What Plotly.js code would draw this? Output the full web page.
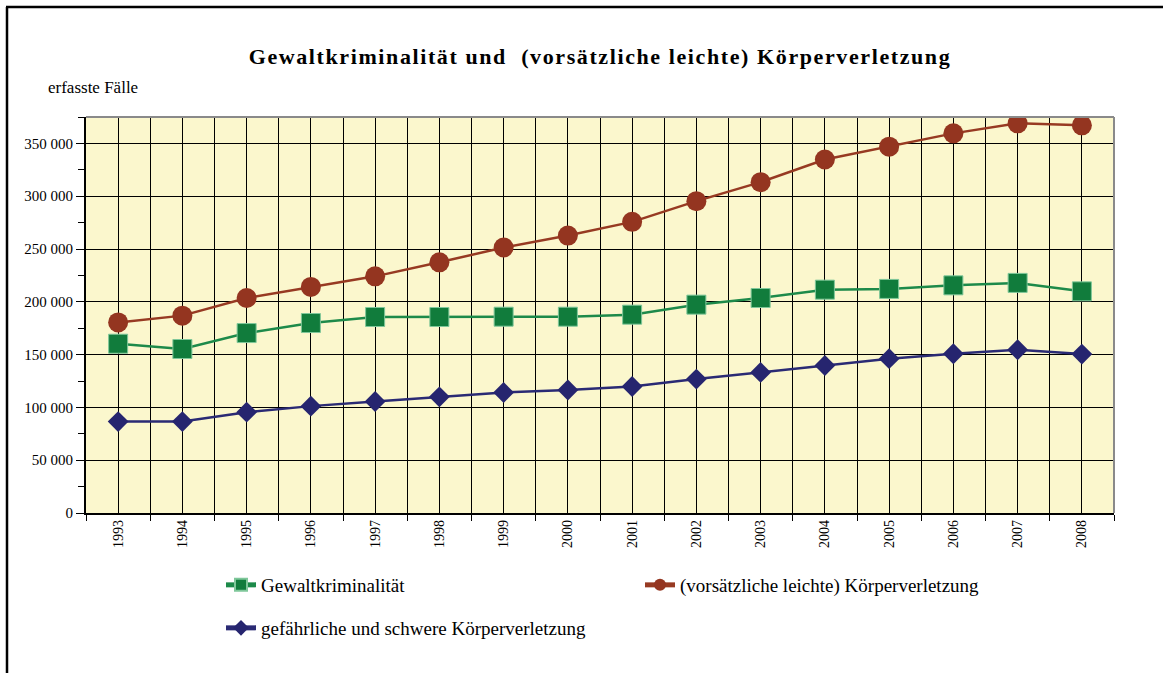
<!DOCTYPE html>
<html>
<head>
<meta charset="utf-8">
<script src="https://cdn.plot.ly/plotly-3.0.1.min.js"></script>
<style>html,body{margin:0;padding:0;background:#fff;}#chart{width:1163px;height:673px;}
.gtitle{letter-spacing:1.6px;}</style>
</head>
<body>
<div id="chart"></div>
<script>
var years = [1993,1994,1995,1996,1997,1998,1999,2000,2001,2002,2003,2004,2005,2006,2007,2008];
var gewaltkriminalitaet = [160300,155300,170400,179900,185600,185600,185900,185900,187800,197300,203600,211500,212200,215600,217900,209900];
var leichteKV = [180500,186900,203600,214100,224100,237400,251400,262700,275700,295300,313300,334800,346900,359500,369000,367100];
var schwereKV = [86600,86600,95500,101200,105600,110000,114100,116500,119800,126800,133100,139700,146100,150800,154600,150500];
var seriesNames = ["Gewaltkriminalität","(vorsätzliche leichte) Körperverletzung","gefährliche und schwere Körperverletzung"];
var yTicks = [0,50000,100000,150000,200000,250000,300000,350000];
var yTickLabels = ["0","50 000","100 000","150 000","200 000","250 000","300 000","350 000"];

var serif = "Liberation Serif, Times New Roman, serif";
var L = 86, R = 1114, T = 117, B = 513, W = 1163, H = 673;
function px(x){ return (x - L) / (R - L); }
function pyy(y){ return (B - y) / (B - T); }

var traces = [
  {x: years, y: gewaltkriminalitaet, name: seriesNames[0], type: "scatter", mode: "lines+markers", legend: "legend",
   line: {color: "#1d8a4a", width: 2.5}, marker: {symbol: "square", size: 19, color: "#117c3c", line: {color: "#7fc79a", width: 1}}},
  {x: years, y: leichteKV, name: seriesNames[1], type: "scatter", mode: "lines+markers", legend: "legend",
   line: {color: "#973a22", width: 2.5}, marker: {symbol: "circle", size: 20, color: "#943520"}},
  {x: years, y: schwereKV, name: seriesNames[2], type: "scatter", mode: "lines+markers", legend: "legend2",
   line: {color: "#2a2a74", width: 2.5}, marker: {symbol: "diamond", size: 16, color: "#26256f"}}
];

var legendFont = {family: serif, size: 19, color: "#000"};
var layout = {
  width: W, height: H,
  margin: {l: L, r: W - R, t: T, b: H - B},
  paper_bgcolor: "#ffffff",
  plot_bgcolor: "#fbf7cd",
  separators: ", ",
  showlegend: true,
  title: {text: "<b>Gewaltkriminalität und  (vorsätzliche leichte) Körperverletzung</b>",
          font: {family: serif, size: 22, color: "#000"}, x: 0.5, xref: "paper", xanchor: "center",
          y: 1 - 56 / H, yref: "container", yanchor: "middle"},
  xaxis: {
    range: [1992.5, 2008.5], tickmode: "array", tickvals: years, ticktext: years.map(String),
    tickangle: -90, ticks: "", showgrid: true, gridcolor: "#000", gridwidth: 1,
    tickfont: {family: serif, size: 14, color: "#000"},
    showline: true, linecolor: "#000", linewidth: 1.5, zeroline: false,
    minor: {tick0: 1992.5, dtick: 1, ticks: "outside", ticklen: 6, tickcolor: "#000", showgrid: true, gridcolor: "#000", gridwidth: 1}
  },
  yaxis: {
    range: [0, 375000], tickmode: "array", tickvals: yTicks, ticktext: yTickLabels,
    ticks: "outside", ticklen: 8, tickcolor: "#000", tickwidth: 1,
    showgrid: true, gridcolor: "#000", gridwidth: 1,
    tickfont: {family: serif, size: 15, color: "#000"},
    showline: true, linecolor: "#000", linewidth: 2, zeroline: false,
    minor: {tick0: 25000, dtick: 50000, ticks: "outside", ticklen: 6, tickcolor: "#000", showgrid: false}
  },
  legend: {
    orientation: "h", x: px(221), xanchor: "left", xref: "paper",
    y: pyy(566), yanchor: "top", yref: "paper",
    entrywidth: 374, entrywidthmode: "pixels",
    font: legendFont, bgcolor: "rgba(0,0,0,0)", itemsizing: "constant"
  },
  legend2: {
    orientation: "h", x: px(221), xanchor: "left", xref: "paper",
    y: pyy(609), yanchor: "top", yref: "paper",
    font: legendFont, bgcolor: "rgba(0,0,0,0)", itemsizing: "constant"
  },
  annotations: [
    {text: "erfasste Fälle", xref: "paper", yref: "paper", x: px(46), y: pyy(88), xanchor: "left", yanchor: "middle",
     showarrow: false, font: {family: serif, size: 17, color: "#000"}}
  ],
  shapes: [
    {type: "line", xref: "paper", yref: "paper", x0: 0, x1: 1, y0: 1, y1: 1, line: {color: "#8a8a8a", width: 2}},
    {type: "line", xref: "paper", yref: "paper", x0: 1, x1: 1, y0: 0, y1: 1, line: {color: "#8a8a8a", width: 2}},
    {type: "line", xref: "paper", yref: "paper", x0: px(7), x1: px(7), y0: pyy(7), y1: pyy(700), line: {color: "#000", width: 2.5}},
    {type: "line", xref: "paper", yref: "paper", x0: px(6), x1: px(1200), y0: pyy(7), y1: pyy(7), line: {color: "#000", width: 2.5}}
  ]
};

Plotly.newPlot("chart", traces, layout, {displayModeBar: false, staticPlot: true});
</script>
</body>
</html>
